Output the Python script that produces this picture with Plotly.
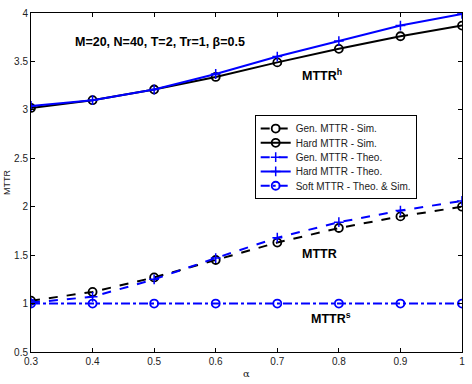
import plotly.graph_objects as go

alpha = [0.3, 0.4, 0.5, 0.6, 0.7, 0.8, 0.9, 1.0]
gen_sim = [1.03, 1.12, 1.27, 1.45, 1.63, 1.78, 1.90, 2.00]
hard_sim = [3.02, 3.10, 3.21, 3.34, 3.49, 3.63, 3.76, 3.87]
gen_theo = [1.01, 1.07, 1.25, 1.47, 1.68, 1.84, 1.96, 2.06]
hard_theo = [3.04, 3.10, 3.21, 3.37, 3.55, 3.71, 3.87, 3.99]
soft = [1.0, 1.0, 1.0, 1.0, 1.0, 1.0, 1.0, 1.0]

xticks = [0.3, 0.4, 0.5, 0.6, 0.7, 0.8, 0.9, 1]
yticks = [0.5, 1, 1.5, 2, 2.5, 3, 3.5, 4]

FONT = "Liberation Sans, Arial, sans-serif"
BLUE = "#0000ff"

fig = go.Figure()
fig.add_trace(go.Scatter(x=alpha, y=gen_sim, name="Gen. MTTR - Sim.", mode="lines+markers",
                         line=dict(color="black", width=2, dash="dash"),
                         marker=dict(symbol="circle-open", size=8, color="black", line=dict(width=1.8))))
fig.add_trace(go.Scatter(x=alpha, y=hard_sim, name="Hard MTTR - Sim.", mode="lines+markers",
                         line=dict(color="black", width=2),
                         marker=dict(symbol="circle-open", size=8, color="black", line=dict(width=1.8))))
fig.add_trace(go.Scatter(x=alpha, y=gen_theo, name="Gen. MTTR - Theo.", mode="lines+markers",
                         line=dict(color=BLUE, width=2, dash="dash"),
                         marker=dict(symbol="cross-thin-open", size=7, color=BLUE, line=dict(width=1.5, color=BLUE))))
fig.add_trace(go.Scatter(x=alpha, y=hard_theo, name="Hard MTTR - Theo.", mode="lines+markers",
                         line=dict(color=BLUE, width=2),
                         marker=dict(symbol="cross-thin-open", size=7, color=BLUE, line=dict(width=1.5, color=BLUE))))
fig.add_trace(go.Scatter(x=alpha, y=soft, name="Soft MTTR - Theo. & Sim.", mode="lines+markers",
                         line=dict(color=BLUE, width=2, dash="dashdot"),
                         marker=dict(symbol="circle-open", size=8, color=BLUE, line=dict(width=1.8))))

axis_common = dict(showline=True, linecolor="black", linewidth=1, mirror="allticks",
                   ticks="inside", ticklen=4, tickcolor="black", showgrid=False, zeroline=False,
                   tickfont=dict(family=FONT, size=10, color="#222"))

fig.update_xaxes(range=[0.3, 1.0], tickvals=xticks, ticktext=[str(t) for t in xticks],
                 title=dict(text="α", font=dict(family="DejaVu Serif, serif", size=10, color="#222"), standoff=3),
                 **axis_common)
fig.update_yaxes(range=[0.5, 4.0], tickvals=yticks, ticktext=[f"{t:g}" for t in yticks],
                 title=dict(text="MTTR", font=dict(family=FONT, size=9, color="#222"), standoff=1),
                 **axis_common)

fig.add_annotation(x=0.369, y=3.70, xref="x", yref="y", xanchor="left", yanchor="middle",
                   text="<b>M=20, N=40, T=2, Tr=1, β=0.5</b>", showarrow=False,
                   font=dict(family=FONT, size=12.5, color="black"))
fig.add_annotation(x=0.772, y=3.36, xref="x", yref="y", xanchor="center", yanchor="middle",
                   text="<b>MTTR<sup>h</sup></b>", showarrow=False,
                   font=dict(family=FONT, size=12.5, color="black"))
fig.add_annotation(x=0.769, y=1.51, xref="x", yref="y", xanchor="center", yanchor="middle",
                   text="<b>MTTR</b>", showarrow=False,
                   font=dict(family=FONT, size=12.5, color="black"))
fig.add_annotation(x=0.787, y=0.85, xref="x", yref="y", xanchor="center", yanchor="middle",
                   text="<b>MTTR<sup>s</sup></b>", showarrow=False,
                   font=dict(family=FONT, size=12.5, color="black"))

fig.update_layout(
    width=472, height=384,
    margin=dict(l=31, r=7, t=13, b=27),
    paper_bgcolor="white", plot_bgcolor="white",
    showlegend=True,
    legend=dict(x=0.519, y=0.698, xanchor="left", yanchor="top",
                bgcolor="white", bordercolor="black", borderwidth=1,
                font=dict(family=FONT, size=10, color="#222"),
                tracegroupgap=0, itemwidth=30),
)

# Tighten the legend row spacing (Plotly enforces a 19px minimum row height)
post = """
try {
  var gd = document.getElementById('{plot_id}');
  var leg = gd.querySelector('.legend');
  var tr = leg.querySelectorAll('.traces');
  var step = 14.3;
  var ys = [];
  tr.forEach(function(el){
    var m = /translate\\(([^,\\s]+)[,\\s]+([^)]+)\\)/.exec(el.getAttribute('transform'));
    ys.push([parseFloat(m[1]), parseFloat(m[2])]);
  });
  var orig = ys.length > 1 ? ys[1][1] - ys[0][1] : step;
  var y0 = ys[0][1] - (orig - step) / 2;
  tr.forEach(function(el, i){
    el.setAttribute('transform', 'translate(' + ys[i][0] + ',' + (y0 + i * step) + ')');
  });
  var bg = leg.querySelector('rect.bg');
  var h = parseFloat(bg.getAttribute('height'));
  bg.setAttribute('height', h - tr.length * (orig - step));
} catch (e) {}
"""

fig.write_html("out.html", post_script=post)
